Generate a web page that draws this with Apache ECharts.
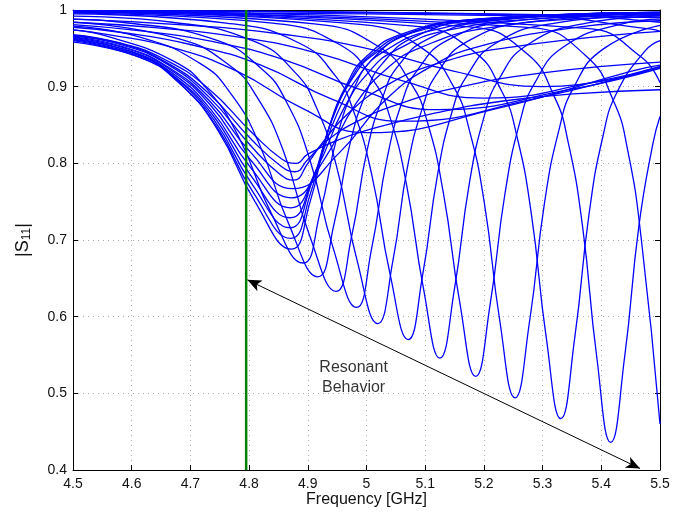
<!DOCTYPE html>
<html>
<head>
<meta charset="utf-8">
<script src="https://cdn.jsdelivr.net/npm/echarts@6/dist/echarts.min.js"></script>
<style>
  html, body { margin: 0; padding: 0; background: #fff; }
  #main { width: 685px; height: 517px; }
</style>
</head>
<body>
<div id="main"></div>
<script>
// axis ticks
var freqTicks = [4.5, 4.6, 4.7, 4.8, 4.9, 5, 5.1, 5.2, 5.3, 5.4, 5.5];
var s11Ticks = [0.4, 0.5, 0.6, 0.7, 0.8, 0.9, 1];

// broad dips sitting near 4.87 GHz
var a1 = [[4.5, .968], [4.58, .957], [4.655, .936], [4.73, .898], [4.805, .84], [4.855, .806], [4.88, .8], [4.9, .812], [4.95, .83], [5.0, .843], [5.12, .866], [5.23, .881], [5.36, .891], [5.5, .896]];
var a2 = [[4.5, .967], [4.582, .956], [4.656, .933], [4.73, .892], [4.804, .831], [4.855, .796], [4.878, .789], [4.9, .805], [4.93, .828], [4.98, .853], [5.05, .876], [5.15, .898], [5.3, .918], [5.5, .932]];
var a3 = [[4.5, .966], [4.586, .954], [4.659, .93], [4.731, .887], [4.804, .822], [4.852, .786], [4.876, .778], [4.9, .8], [4.93, .832], [4.97, .866], [5.03, .9], [5.12, .93], [5.25, .952], [5.5, .972]];
var a4 = [[4.5, .965], [4.59, .951], [4.661, .926], [4.732, .882], [4.803, .814], [4.874, .767], [4.954, .814], [5.034, .884], [5.114, .928], [5.194, .953], [5.354, .977], [5.5, .986]];
var a5 = [[4.5, .964], [4.594, .949], [4.664, .923], [4.733, .877], [4.803, .804], [4.872, .755], [4.927, .804], [4.982, .878], [5.037, .925], [5.092, .951], [5.202, .976], [5.422, .991], [5.5, .993]];
var a6 = [[4.5, .963], [4.599, .946], [4.667, .919], [4.735, .87], [4.803, .794], [4.871, .742], [4.916, .794], [4.961, .871], [5.006, .921], [5.051, .948], [5.141, .974], [5.321, .990], [5.5, .995]];
var a7 = [[4.5, .962], [4.604, .944], [4.67, .915], [4.737, .864], [4.804, .783], [4.87, .729], [4.91, .783], [4.95, .865], [4.99, .917], [5.03, .946], [5.11, .973], [5.27, .990], [5.5, .996]];
var a8 = [[4.5, .961], [4.61, .941], [4.675, .911], [4.74, .857], [4.805, .773], [4.87, .716], [4.906, .773], [4.942, .858], [4.978, .913], [5.014, .943], [5.086, .972], [5.23, .989], [5.5, .996]];
var a9 = [[4.5, .96], [4.615, .938], [4.679, .906], [4.743, .85], [4.807, .762], [4.871, .702], [4.905, .762], [4.938, .851], [4.972, .908], [5.005, .94], [5.072, .97], [5.206, .989], [5.5, .997]];
var a10 = [[4.5, .958], [4.622, .936], [4.685, .902], [4.747, .843], [4.81, .75], [4.872, .688], [4.904, .75], [4.935, .844], [4.967, .904], [4.998, .938], [5.061, .969], [5.187, .988], [5.5, .997]];

// deep dips walking up in frequency
var a11 = [[4.5, .974], [4.562, .965], [4.672, .933], [4.727, .898], [4.782, .835], [4.837, .736], [4.892, .67], [4.921, .736], [4.95, .835], [4.979, .898], [5.008, .934], [5.066, .967], [5.182, .987], [5.5, .997]];
var a12 = [[4.5, .979], [4.617, .964], [4.717, .93], [4.767, .893], [4.817, .826], [4.867, .722], [4.917, .652], [4.945, .722], [4.972, .826], [5.0, .893], [5.027, .93], [5.082, .965], [5.192, .987], [5.5, .997]];
var a13 = [[4.5, .984], [4.678, .963], [4.768, .927], [4.813, .887], [4.858, .817], [4.903, .706], [4.948, .633], [4.975, .706], [5.001, .817], [5.028, .887], [5.054, .927], [5.107, .963], [5.213, .986], [5.5, .997]];
var a14 = [[4.5, .988], [4.583, .984], [4.743, .961], [4.823, .922], [4.863, .881], [4.903, .806], [4.943, .69], [4.983, .612], [5.009, .69], [5.035, .806], [5.061, .881], [5.087, .922], [5.139, .961], [5.243, .985], [5.5, .996]];
var a15 = [[4.5, .992], [4.669, .984], [4.809, .959], [4.879, .918], [4.914, .874], [4.949, .796], [4.984, .673], [5.019, .591], [5.045, .673], [5.07, .796], [5.096, .874], [5.121, .918], [5.172, .959], [5.274, .984], [5.5, .995]];
var a16 = [[4.5, .995], [4.761, .983], [4.885, .957], [4.947, .914], [4.978, .868], [5.009, .785], [5.04, .656], [5.071, .57], [5.096, .656], [5.121, .785], [5.146, .868], [5.171, .914], [5.221, .957], [5.321, .983], [5.5, .994]];
var a17 = [[4.5, .996], [4.84, .983], [4.954, .955], [5.011, .909], [5.04, .86], [5.068, .773], [5.097, .637], [5.125, .546], [5.15, .637], [5.175, .773], [5.2, .86], [5.225, .909], [5.275, .955], [5.375, .983], [5.5, .992]];
var a18 = [[4.5, .997], [4.911, .982], [5.021, .952], [5.076, .904], [5.104, .853], [5.131, .761], [5.159, .618], [5.186, .522], [5.211, .618], [5.236, .761], [5.261, .853], [5.286, .904], [5.336, .952], [5.436, .982], [5.5, .988]];
var a19 = [[4.5, .998], [4.993, .981], [5.097, .949], [5.149, .899], [5.175, .844], [5.201, .747], [5.227, .595], [5.253, .494], [5.278, .595], [5.303, .747], [5.328, .844], [5.353, .899], [5.403, .949], [5.5, .98]];
var a20 = [[4.5, .998], [5.081, .979], [5.181, .947], [5.231, .893], [5.256, .836], [5.281, .733], [5.306, .574], [5.331, .467], [5.355, .574], [5.379, .733], [5.403, .836], [5.427, .893], [5.475, .947], [5.5, .96]];
var a21 = [[4.5, .998], [5.176, .978], [5.272, .944], [5.32, .887], [5.344, .826], [5.368, .718], [5.392, .549], [5.416, .436], [5.44, .549], [5.464, .718], [5.488, .826], [5.5, .861]];
var a22 = [[4.5, .998], [5.28, .977], [5.374, .94], [5.421, .881], [5.445, .817], [5.468, .702], [5.5, .46]];

// dips just past the right edge
var c1 = [[4.5, .999], [5.375, .976], [5.469, .938], [5.5, .905]];
var c2 = [[4.5, .999], [5.25, .994], [5.485, .975], [5.5, .972]];
var c3 = [[4.5, .999], [5.3, .994], [5.5, .984]];
var c4 = [[4.5, .997], [5.0, .995], [5.5, .99]];

// shallow, wide dips
var b1 = [[4.5, .974], [4.56, .968], [4.67, .951], [4.78, .92], [4.89, .872], [5.0, .84], [5.225, .872], [5.45, .92], [5.5, .928]];
var b2 = [[4.5, .9775], [4.58, .971], [4.7, .955], [4.82, .928], [4.94, .884], [5.06, .855], [5.285, .884], [5.5, .926]];
var b3 = [[4.5, .981], [4.6, .974], [4.73, .96], [4.86, .935], [4.99, .896], [5.12, .87], [5.345, .896], [5.5, .924]];
var b4 = [[4.5, .984], [4.64, .977], [4.78, .965], [4.92, .943], [5.06, .908], [5.2, .885], [5.4, .908], [5.5, .926]];
var b5 = [[4.5, .988], [4.7, .98], [4.85, .969], [5.0, .95], [5.15, .92], [5.3, .9], [5.5, .925]];

var curves = [a1, a2, a3, a4, a5, a6, a7, a8, a9, a10, a11, a12, a13, a14, a15, a16, a17, a18, a19, a20, a21, a22,
  c1, c2, c3, c4, b1, b2, b3, b4, b5];

// marker line and annotation
var markerFreq = 4.795;
var arrowStart = [4.797, 0.648];
var arrowEnd = [5.466, 0.402];
var noteAt = [4.978, 0.52];
var noteText = 'Resonant\nBehavior';

var font = 'Liberation Sans, Arial, Helvetica, sans-serif';

var series = curves.map(function (d) {
  return {
    type: 'line',
    data: d,
    smooth: 0.5,
    showSymbol: false,
    silent: true,
    lineStyle: { color: '#0000ff', width: 1.3 }
  };
});

series.push({
  type: 'line',
  data: [[markerFreq, s11Ticks[0]], [markerFreq, s11Ticks[s11Ticks.length - 1]]],
  showSymbol: false,
  lineStyle: { color: '#008000', width: 2.5 },
  z: 5,
  markLine: {
    silent: true,
    symbol: ['arrow', 'arrow'],
    symbolSize: [9, 14],
    label: { show: false },
    lineStyle: { color: '#000', width: 1, type: 'solid' },
    data: [[{ coord: arrowStart }, { coord: arrowEnd }]]
  }
});

series.push({
  type: 'scatter',
  data: [noteAt],
  symbolSize: 0,
  label: {
    show: true,
    position: 'inside',
    formatter: noteText,
    color: '#000',
    fontSize: 16,
    lineHeight: 20,
    fontFamily: font,
    align: 'center'
  }
});

var chart = echarts.init(document.getElementById('main'));
chart.setOption({
  animation: false,
  backgroundColor: '#fff',
  grid: { left: 73, right: 25, top: 10, bottom: 47 },
  xAxis: [{
    type: 'value',
    min: freqTicks[0],
    max: freqTicks[freqTicks.length - 1],
    interval: 0.1,
    name: 'Frequency [GHz]',
    nameLocation: 'middle',
    nameGap: 22,
    nameMoveOverlap: false,
    nameTextStyle: { fontSize: 16, color: '#111', fontFamily: font },
    axisLine: { lineStyle: { color: '#000', width: 1 } },
    axisTick: { inside: true, length: 5, lineStyle: { color: '#000' } },
    axisLabel: { fontSize: 14, color: '#111', fontFamily: font, margin: 7 },
    splitLine: { show: true, lineStyle: { color: '#aaa', type: [1, 4], width: 1 } }
  }, {
    type: 'value', position: 'top',
    min: freqTicks[0], max: freqTicks[freqTicks.length - 1], interval: 0.1,
    axisLine: { show: true, lineStyle: { color: '#000' } },
    axisTick: { inside: true, length: 5, lineStyle: { color: '#000' } },
    axisLabel: { show: false }, splitLine: { show: false }
  }],
  yAxis: [{
    type: 'value',
    min: s11Ticks[0],
    max: s11Ticks[s11Ticks.length - 1],
    interval: 0.1,
    name: '|S{sub|11}|',
    nameLocation: 'middle',
    nameGap: 40,
    nameRotate: 90,
    nameTextStyle: {
      fontSize: 18, color: '#111', fontFamily: font,
      rich: { sub: { fontSize: 12, verticalAlign: 'bottom', padding: [8, 0, 0, 0], fontFamily: font } }
    },
    axisLine: { lineStyle: { color: '#000', width: 1 } },
    axisTick: { inside: true, length: 5, lineStyle: { color: '#000' } },
    axisLabel: { fontSize: 14, color: '#111', fontFamily: font, margin: 6 },
    splitLine: { show: true, lineStyle: { color: '#aaa', type: [1, 4], width: 1 } }
  }, {
    type: 'value', position: 'right',
    min: s11Ticks[0], max: s11Ticks[s11Ticks.length - 1], interval: 0.1,
    axisLine: { show: true, lineStyle: { color: '#000' } },
    axisTick: { inside: true, length: 5, lineStyle: { color: '#000' } },
    axisLabel: { show: false }, splitLine: { show: false }
  }],
  series: series
});
</script>
</body>
</html>
